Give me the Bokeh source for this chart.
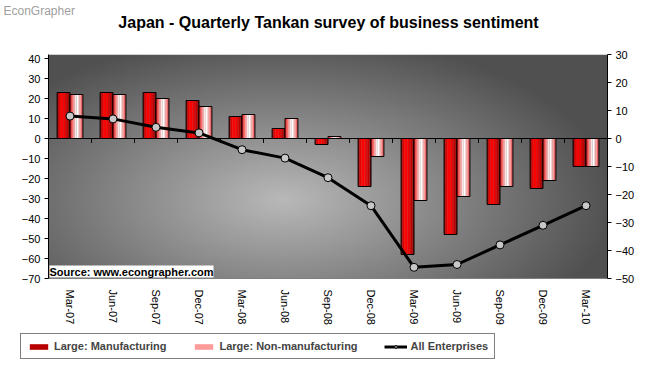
import numpy as np
from bokeh.plotting import figure
from bokeh.layouts import column
from bokeh.models import (Range1d, LinearAxis, FixedTicker, Label, Legend,
                          LegendItem, Span, ColumnDataSource)
from bokeh.embed import file_html
from bokeh.resources import INLINE

# ---------------- data ----------------
quarters = ["Mar-07", "Jun-07", "Sep-07", "Dec-07", "Mar-08", "Jun-08", "Sep-08",
            "Dec-08", "Mar-09", "Jun-09", "Sep-09", "Dec-09", "Mar-10"]
manufacturing = [23, 23, 23, 19, 11, 5, -3, -24, -58, -48, -33, -25, -14]
non_manufacturing = [22, 22, 20, 16, 12, 10, 1, -9, -31, -29, -24, -21, -14]
all_enterprises = [8, 7, 4, 2, -4, -7, -14, -24, -46, -45, -38, -31, -24]
left_ticks = list(range(-70, 41, 10))
right_ticks = list(range(-50, 31, 10))
title_text = "Japan - Quarterly Tankan survey of business sentiment"
watermark_text = "EconGrapher"
source_text = "Source: www.econgrapher.com"

FONT = "Liberation Sans"
n = len(quarters)
idx = np.arange(n)
W_PAGE = 654

# ------------- header strip (title + watermark) -------------
tf = figure(width=W_PAGE, height=40, x_range=Range1d(0, W_PAGE), y_range=Range1d(0, 40),
            min_border=0, min_border_left=0, min_border_right=0, min_border_top=0,
            min_border_bottom=0, title=None, output_backend="svg", toolbar_location=None,
            x_axis_location=None, y_axis_location=None)
tf.frame_align = False
tf.grid.visible = False
tf.outline_line_color = None
tf.add_layout(Label(x=3, y=30, text=watermark_text, text_font=FONT, text_font_size="12px",
                    text_color="#A0A0A0", text_baseline="middle", text_align="left"))
tf.add_layout(Label(x=328, y=18, text=title_text, text_font=FONT, text_font_size="16px",
                    text_font_style="bold", text_color="black",
                    text_baseline="middle", text_align="center"))

# ------------- main chart -------------
p = figure(frame_width=559, frame_height=224,
           min_border_left=48, min_border_right=47, min_border_top=14, min_border_bottom=52,
           x_range=Range1d(-0.5, n - 0.5), y_range=Range1d(-70, 42), title=None,
           output_backend="svg", toolbar_location=None,
           background_fill_color="white", border_fill_color="white")
p.frame_align = False
p.extra_y_ranges = {"right": Range1d(-50, 30)}
p.outline_line_color = None
p.grid.visible = False

# plot-area gradient background
H, W = 120, 300
yy, xx = np.mgrid[0:H, 0:W]
u = xx / (W - 1)
v = yy / (H - 1)
d = np.sqrt(((u - 0.42) / 0.6) ** 2 + ((v - 0.35) / 0.75) ** 2)
g = np.clip(185 - 105 * d, 80, 200).astype(np.uint8)
img = np.empty((H, W), dtype=np.uint32)
view = img.view(dtype=np.uint8).reshape((H, W, 4))
view[..., 0] = g
view[..., 1] = g
view[..., 2] = g
view[..., 3] = 255
p.image_rgba(image=[img], x=p.x_range.start, y=p.y_range.start,
             dw=p.x_range.end - p.x_range.start, dh=p.y_range.end - p.y_range.start,
             level="image")

# bars with simulated gradient
bar_w = 0.30
mfg_colors = ["#B00000", "#E00000", "#FF0000", "#FF0000", "#F40000", "#DC0000", "#C00000", "#960000"]
nm_colors = ["#FF2020", "#FF6A6A", "#FFA8A8", "#FFE4E4", "#FFFFFF", "#FFD6D6", "#FF9A9A", "#FF6464"]
src = ColumnDataSource(dict(x=idx, allent=all_enterprises))

def striped(values, offset, colors):
    k = len(colors)
    sw = bar_w / k
    for j, c in enumerate(colors):
        p.vbar(x=idx + offset + (j - (k - 1) / 2) * sw, top=values, bottom=0,
               width=sw * 1.02, fill_color=c, line_color=None)
    p.vbar(x=idx + offset, top=values, bottom=0, width=bar_w,
           fill_color=None, line_color="black", line_width=1)

striped(manufacturing, -bar_w / 2, mfg_colors)
striped(non_manufacturing, bar_w / 2, nm_colors)

# zero line with category-boundary ticks
p.add_layout(Span(location=0, dimension="width", line_color="black", line_width=1))
bounds = np.arange(n + 1) - 0.5
p.segment(x0=bounds, y0=0, x1=bounds, y1=-2.2, line_color="black", line_width=1)

# all enterprises line
p.line("x", "allent", source=src, y_range_name="right", line_color="black", line_width=3)
p.scatter("x", "allent", source=src, y_range_name="right", size=8,
          fill_color="#C8C8C8", line_color="black", line_width=1)

# axes
ya = p.yaxis[0]
ya.ticker = FixedTicker(ticks=left_ticks)
yr = LinearAxis(y_range_name="right", ticker=FixedTicker(ticks=right_ticks))
p.add_layout(yr, "right")
for ax in (ya, yr):
    ax.axis_line_color = "black"
    ax.major_tick_line_color = "black"
    ax.major_tick_out = 4
    ax.major_tick_in = 0
    ax.minor_tick_line_color = None
    ax.major_label_text_font = FONT
    ax.major_label_text_font_size = "11px"
    ax.major_label_text_color = "black"
    ax.major_label_standoff = 4

xa = p.xaxis[0]
xa.ticker = FixedTicker(ticks=list(idx))
xa.major_label_overrides = {int(i): q for i, q in zip(idx, quarters)}
xa.major_label_orientation = -np.pi / 2
xa.major_tick_line_color = None
xa.minor_tick_line_color = None
xa.axis_line_color = "#808080"
xa.major_label_text_font = FONT
xa.major_label_text_font_size = "11px"
xa.major_label_text_color = "black"
xa.major_label_standoff = 5

p.add_layout(Label(x=p.x_range.start, y=p.y_range.start, x_offset=1, y_offset=1,
                   text=source_text, text_font=FONT,
                   text_font_size="11px", text_font_style="bold", text_color="black",
                   background_fill_color="white", text_baseline="bottom"))

# ------------- legend strip -------------
lf = figure(width=W_PAGE, height=34, x_range=Range1d(0, W_PAGE), y_range=Range1d(0, 34),
            min_border=0, min_border_left=0, min_border_right=0, min_border_top=0,
            min_border_bottom=0, title=None,
            output_backend="svg", toolbar_location=None,
            x_axis_location=None, y_axis_location=None)
lf.frame_align = False
lf.grid.visible = False
lf.outline_line_color = None
r_m = lf.vbar(x=[-100], top=[-100], width=1, fill_color="#B80000", line_color=None)
r_n = lf.vbar(x=[-100], top=[-100], width=1, fill_color="#FF9A9A", line_color=None)
r_l = lf.line(x=[-100, -99], y=[-100, -100], line_color="black", line_width=3)
r_s = lf.scatter(x=[-100], y=[-100], size=7, fill_color="#C8C8C8", line_color="black")
legend = Legend(items=[
    LegendItem(label="Large: Manufacturing", renderers=[r_m]),
    LegendItem(label="Large: Non-manufacturing", renderers=[r_n]),
    LegendItem(label="All Enterprises", renderers=[r_l, r_s]),
], location=(20, 5), orientation="horizontal")
legend.border_line_color = "black"
legend.border_line_width = 1
legend.background_fill_color = "white"
legend.background_fill_alpha = 1
legend.label_text_font = FONT
legend.label_text_font_size = "11px"
legend.label_text_font_style = "bold"
legend.label_height = 9
legend.glyph_width = 23
legend.glyph_height = 7
legend.label_standoff = 4
legend.spacing = 26
legend.padding = 6
legend.margin = 0
lf.add_layout(legend)

layout = column(tf, p, lf, spacing=0)
open("out.html", "w").write(file_html(layout, INLINE))
